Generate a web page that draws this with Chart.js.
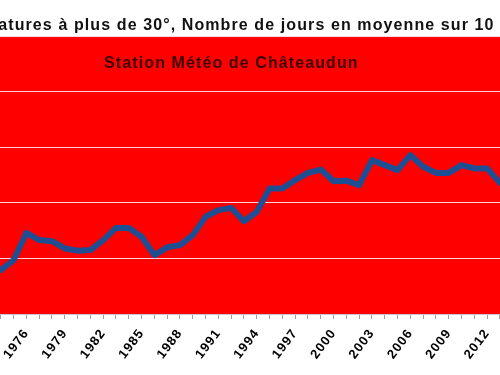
<!DOCTYPE html>
<html>
<head>
<meta charset="utf-8">
<script src="https://cdn.jsdelivr.net/npm/chart.js@4"></script>
<style>
  html, body { margin: 0; padding: 0; background: #fff; overflow: hidden; width: 500px; height: 375px; }
  #wrap { position: absolute; left: -87.4px; top: 0; width: 640px; height: 375px; }
</style>
</head>
<body>
<div id="wrap"><canvas id="myChart"></canvas></div>
<script>
// DATA
const years = [1974, 1975, 1976, 1977, 1978, 1979, 1980, 1981, 1982, 1983,
               1984, 1985, 1986, 1987, 1988, 1989, 1990, 1991, 1992, 1993,
               1994, 1995, 1996, 1997, 1998, 1999, 2000, 2001, 2002, 2003,
               2004, 2005, 2006, 2007, 2008, 2009, 2010, 2011, 2012, 2013];
const days = [3.95, 4.85, 7.3, 6.65, 6.55, 5.9, 5.7, 5.75, 6.65, 7.75,
              7.75, 6.95, 5.3, 6.0, 6.2, 7.1, 8.75, 9.35, 9.55, 8.35,
              9.2, 11.3, 11.3, 12.05, 12.7, 13.0, 11.95, 12.0, 11.6, 13.85,
              13.4, 12.95, 14.3, 13.25, 12.7, 12.7, 13.4, 13.1, 13.1, 11.8];
const tickYears = [1972, 1973, 1974, 1975, 1976, 1977, 1978, 1979, 1980, 1981,
                   1982, 1983, 1984, 1985, 1986, 1987, 1988, 1989, 1990, 1991,
                   1992, 1993, 1994, 1995, 1996, 1997, 1998, 1999, 2000, 2001,
                   2002, 2003, 2004, 2005, 2006, 2007, 2008, 2009, 2010, 2011,
                   2012, 2013];
const labelYears = [1976, 1979, 1982, 1985, 1988, 1991, 1994, 1997, 2000, 2003, 2006, 2009, 2012];
const yTicks = [0, 5, 10, 15, 20, 25];

const titleText = 'Températures à plus de 30°, Nombre de jours en moyenne sur 10 ans';
const subTitle = 'Station Météo de Châteaudun';

// plot background, letter spacing, inner title
const plotBg = {
  id: 'plotBg',
  beforeUpdate(chart) { chart.ctx.letterSpacing = '1.1px'; },
  beforeDraw(chart) {
    const a = chart.chartArea, c = chart.ctx;
    c.letterSpacing = '1.1px';
    c.save();
    c.fillStyle = '#ff0000';
    c.fillRect(a.left, a.top, a.right - a.left, a.bottom - a.top);
    c.restore();
  },
  afterDraw(chart) {
    const c = chart.ctx;
    c.save();
    c.font = 'bold 16px "Liberation Sans", Arial, sans-serif';
    c.fillStyle = '#3a0000';
    c.textAlign = 'center';
    c.textBaseline = 'middle';
    c.fillText(subTitle, 318.4, 64);
    c.restore();
  }
};

const ctx = document.getElementById('myChart');

new Chart(ctx, {
  type: 'line',
  data: {
    datasets: [{
      data: years.map((y, i) => ({ x: y, y: days[i] })),
      borderColor: '#1f4f92',
      borderWidth: 6,
      pointRadius: 0,
      tension: 0,
      borderJoinStyle: 'round',
      borderCapStyle: 'round'
    }]
  },
  options: {
    responsive: true,
    maintainAspectRatio: false,
    animation: false,
    layout: { padding: 0 },
    plugins: {
      legend: { display: false },
      tooltip: { enabled: false },
      title: {
        display: true,
        text: titleText,
        color: '#111',
        font: { family: '"Liberation Sans", Arial, sans-serif', size: 16, weight: 'bold', lineHeight: 1.2 },
        padding: { top: 16, bottom: 1 }
      }
    },
    scales: {
      x: {
        type: 'linear',
        min: 1967.141,
        max: 2017.141,
        afterBuildTicks(scale) { scale.ticks = tickYears.map(v => ({ value: v })); },
        afterFit(scale) { scale.height = 61; scale.paddingLeft = 0; scale.paddingRight = 0; },
        grid: { drawOnChartArea: false, drawTicks: true, tickLength: 5, color: '#a0a0a0' },
        border: { display: true, color: '#c8c8c8' },
        ticks: {
          autoSkip: false,
          minRotation: 53,
          maxRotation: 53,
          padding: 7,
          color: '#000',
          font: { family: '"Liberation Sans", Arial, sans-serif', size: 13, weight: 'bold' },
          callback: (v) => labelYears.includes(v) ? String(v) : ''
        }
      },
      y: {
        min: 0,
        max: 25,
        afterBuildTicks(scale) { scale.ticks = yTicks.map(v => ({ value: v })); },
        afterFit(scale) { scale.width = 0; scale.paddingTop = 0; scale.paddingBottom = 0; },
        grid: { color: 'rgba(255,235,235,0.9)', lineWidth: 1, drawTicks: false },
        border: { display: false },
        ticks: { display: false }
      }
    }
  },
  plugins: [plotBg]
});
</script>
</body>
</html>
